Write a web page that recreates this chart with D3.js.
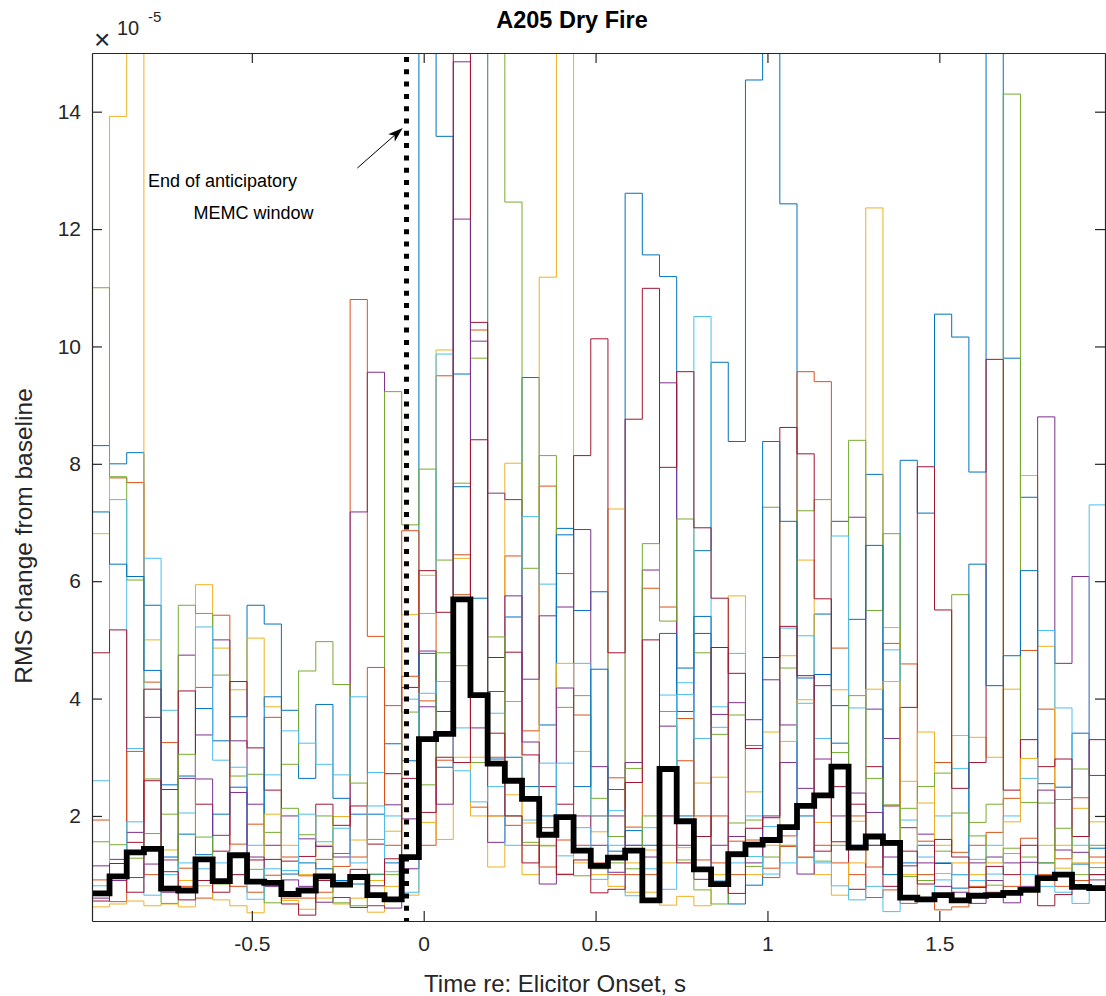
<!DOCTYPE html>
<html>
<head>
<meta charset="utf-8">
<script src="https://cdn.jsdelivr.net/npm/d3@7"></script>
<style>
body { margin: 0; background: #fff; }
svg text { font-family: "Liberation Sans", Arial, Helvetica, sans-serif; }
</style>
</head>
<body>
<svg id="chart" width="1106" height="996"></svg>
<script>
// 59 time bins of 0.05 s, the first one starting at -0.964 s
var binStart = -0.964;
var binWidth = 0.05;

var xTicks = [-0.5, 0, 0.5, 1, 1.5];
var xTickLabels = ["-0.5", "0", "0.5", "1", "1.5"];
var yTicks = [2, 4, 6, 8, 10, 12, 14];
var yTickLabels = ["2", "4", "6", "8", "10", "12", "14"];

// RMS change per bin, in units of 1e-5 (values above 15 run off the top)
var blueA = [8.31, 8.0, 8.19, 5.59, 2.53, 2.68, 3.83, 3.28, 3.69, 5.59, 5.27, 3.80, 2.64, 3.90, 2.30, 2.03, 2.03, 3.23, 2.94, 16, 13.58, 9.53, 16, 4.12, 5.39, 9.47, 3.55, 6.90, 5.50, 5.82, 2.45, 12.61, 11.56, 11.19, 4.52, 6.52, 9.73, 8.38, 14.54, 16, 12.43, 4.35, 5.44, 3.88, 5.35, 7.82, 1.5, 8.06, 7.16, 10.55, 10.16, 7.86, 16, 9.8, 7.43, 2.55, 2.49, 3.41, 1.45];
var orangeA = [1.93, 7.76, 7.68, 4.28, 3.25, 1.11, 4.19, 5.42, 1.52, 1.86, 3.68, 1.3, 0.98, 1.26, 1.36, 10.8, 5.06, 3.88, 6.86, 3.96, 9.5, 5.77, 10.28, 3.0, 6.43, 3.45, 7.62, 6.13, 3.72, 2.0, 2.65, 1.81, 5.88, 5.56, 3.66, 1.25, 2.0, 1.57, 3.20, 1.11, 1.66, 9.57, 9.40, 4.86, 2.0, 1.13, 4.94, 4.59, 1.57, 2.91, 1.38, 1.5, 1.72, 2.30, 4.82, 3.82, 1.27, 2.31, 1.3];
var yellowA = [6.81, 13.92, 16, 5.0, 1.42, 0.9, 5.94, 4.86, 4.15, 5.03, 3.86, 1.5, 1.0, 1.5, 1.99, 1.59, 0.9, 1.74, 5.43, 6.10, 9.94, 6.39, 3.0, 1.13, 8.01, 1.88, 11.18, 16, 3.10, 1.73, 7.23, 1.2, 1.42, 1.2, 1.46, 2.56, 2.66, 5.75, 2.41, 3.43, 4.73, 6.36, 1.89, 4.15, 1.91, 12.36, 5.21, 2.59, 3.43, 1.5, 3.37, 3.34, 3.0, 4.16, 7.8, 4.89, 1.5, 2.13, 1.9];
var purpleA = [1.15, 1.26, 1.72, 3.68, 1.25, 4.74, 3.38, 5.0, 3.28, 2.2, 1.5, 2.0, 1.61, 1.48, 1.3, 7.18, 9.56, 2.19, 1.95, 4.81, 3.78, 14.85, 10.09, 7.5, 7.39, 4.33, 5.41, 5.56, 6.88, 2.84, 2.0, 2.91, 6.19, 9.38, 3.78, 5.11, 3.73, 3.93, 3.64, 4.32, 3.55, 2.47, 4.22, 7.02, 7.09, 3.82, 3.32, 1.8, 1.69, 1.19, 1.0, 1.2, 1.3, 1.2, 1.21, 8.8, 4.60, 6.08, 2.69];
var greenA = [11.0, 7.78, 6.02, 2.63, 2.03, 5.59, 5.45, 4.40, 2.68, 2.71, 1.72, 2.88, 4.47, 4.97, 4.24, 2.56, 1.6, 9.23, 6.96, 7.91, 6.36, 7.67, 9.8, 16, 12.46, 6.22, 8.14, 3.85, 4.05, 2.3, 1.65, 2.81, 6.64, 5.32, 7.06, 4.78, 3.39, 3.72, 1.93, 7.26, 4.52, 7.20, 7.39, 3.08, 8.40, 5.5, 6.81, 2.13, 2.5, 2.73, 5.77, 1.89, 2.20, 14.3, 2.23, 2.22, 2.28, 2.80, 1.12];
var lightBlueA = [0.81, 7.39, 3.15, 6.39, 3.80, 2.05, 5.22, 2.95, 2.83, 1.5, 2.7, 3.45, 3.24, 2.88, 2.70, 4.03, 2.74, 2.0, 3.99, 5.45, 9.87, 3.5, 4.03, 3.75, 3.95, 7.1, 5.95, 2.90, 4.60, 2.0, 2.09, 1.5, 1.8, 4.06, 4.27, 10.51, 3.86, 4.77, 2.0, 1.82, 5.2, 5.07, 3.32, 6.77, 3.84, 1.5, 4.83, 1.93, 1.3, 2.0, 2.81, 1.26, 1.5, 2.0, 2.64, 5.16, 3.84, 1.5, 7.30];
var darkRedA = [4.78, 5.17, 1.55, 4.16, 2.45, 4.13, 2.20, 1.40, 4.29, 3.16, 2.44, 1.23, 1.31, 2.20, 1.84, 2.17, 1.52, 2.72, 4.19, 6.18, 5.47, 16, 10.41, 4.70, 4.79, 3.04, 2.50, 2.2, 8.14, 10.13, 4.78, 8.76, 10.99, 7.94, 9.57, 6.91, 5.71, 4.43, 3.15, 4.70, 8.62, 8.17, 5.70, 1.56, 0.75, 2.84, 2.17, 3.85, 7.95, 5.51, 2.47, 2.91, 9.78, 2.44, 3.30, 2.84, 2.97, 1.65, 3.30];

var blueB = [7.18, 6.29, 6.08, 4.48, 1.3, 1.69, 1.34, 2.03, 2.49, 0.9, 4.03, 1.01, 1.2, 1.1, 0.9, 0.84, 1.0, 1.2, 1.3, 4.77, 2.83, 7.61, 5.71, 2.97, 3.0, 2.5, 2.0, 6.79, 2.5, 4.50, 1.4, 1.75, 1.5, 5.11, 2.0, 5.40, 0.89, 0.5, 0.82, 8.38, 7.02, 2.0, 4.41, 3.24, 1.5, 6.61, 1.0, 1.2, 1.5, 1.2, 0.77, 6.29, 4.22, 4.73, 6.18, 1.2, 1.0, 1.18, 1.0];
var orangeB = [0.91, 0.54, 3.10, 1.0, 0.8, 0.8, 0.60, 0.9, 0.8, 0.7, 0.99, 0.6, 0.6, 0.7, 1.14, 1.3, 4.53, 1.5, 4.38, 1.5, 2.95, 6.45, 2.15, 2.0, 1.84, 1.5, 1.13, 1.59, 1.5, 1.2, 1.0, 1.0, 1.0, 1.5, 2.94, 2.0, 1.2, 1.0, 1.59, 0.95, 1.48, 1.3, 1.5, 1.2, 1.0, 0.61, 0.74, 0.51, 1.0, 0.40, 0.45, 0.8, 0.7, 0.8, 1.62, 1.0, 0.8, 0.9, 0.8];
var yellowB = [0.45, 0.50, 0.55, 0.47, 0.5, 0.45, 0.81, 0.57, 0.47, 0.35, 2.03, 0.56, 0.41, 0.6, 0.5, 0.6, 0.36, 0.8, 0.65, 1.89, 1.6, 3.0, 2.0, 2.0, 2.36, 1.0, 1.5, 4.60, 1.2, 1.0, 0.8, 0.7, 0.7, 0.48, 0.63, 0.47, 1.0, 1.3, 1.0, 1.5, 3.27, 3.98, 1.0, 0.65, 1.2, 4.16, 4.29, 1.0, 2.22, 1.02, 1.2, 1.0, 1.2, 1.9, 2.98, 1.5, 1.11, 1.2, 1.2];
var purpleB = [0.60, 0.9, 0.95, 1.18, 0.7, 2.64, 2.63, 1.67, 2.40, 1.3, 0.8, 0.91, 0.8, 0.53, 0.61, 0.44, 0.47, 0.43, 1.10, 3.86, 2.2, 12.17, 3.5, 1.55, 5.75, 3.26, 0.84, 4.18, 2.0, 1.5, 1.04, 1.5, 1.3, 3.53, 1.5, 0.92, 1.5, 1.65, 1.2, 2.0, 2.91, 1.01, 2.97, 2.0, 2.39, 2.06, 1.3, 1.15, 1.2, 0.8, 0.7, 0.51, 0.9, 0.52, 0.8, 2.44, 1.42, 1.38, 0.91];
var greenB = [1.56, 1.51, 1.28, 1.70, 0.51, 3.05, 1.64, 0.84, 1.3, 1.09, 0.52, 2.13, 1.68, 2.0, 0.52, 0.47, 1.01, 1.0, 3.77, 2.53, 4.78, 4.56, 2.91, 5.05, 2.0, 1.55, 1.49, 1.01, 0.98, 1.1, 1.2, 1.1, 2.0, 3.78, 1.25, 0.74, 0.5, 1.88, 1.14, 1.3, 1.5, 1.29, 1.23, 1.5, 4.05, 2.64, 2.19, 0.97, 0.9, 1.4, 2.05, 1.66, 0.82, 1.45, 1.3, 1.2, 1.79, 1.0, 1.5];
var lightBlueB = [2.6, 1.0, 1.90, 0.65, 1.0, 1.2, 1.1, 1.2, 1.0, 0.58, 1.1, 1.07, 2.03, 1.56, 1.79, 1.2, 2.17, 1.05, 0.70, 4.09, 4.29, 2.77, 2.24, 2.5, 1.5, 1.93, 2.90, 1.32, 1.8, 0.92, 1.5, 0.64, 1.1, 0.75, 4.07, 3.32, 3.51, 1.2, 1.31, 1.01, 1.2, 3.92, 1.2, 0.81, 0.57, 0.8, 0.37, 0.6, 0.54, 0.91, 1.0, 0.9, 1.01, 1.36, 1.0, 0.8, 0.7, 0.51, 0.8];
var darkRedB = [0.55, 1.19, 0.7, 2.60, 1.05, 0.57, 0.9, 0.7, 1.00, 1.25, 1.26, 0.50, 0.31, 0.9, 0.8, 1.09, 0.81, 1.27, 2.64, 2.06, 3.0, 2.91, 8.41, 3.41, 2.0, 1.2, 1.8, 1.0, 1.25, 0.69, 0.75, 2.57, 5.0, 2.0, 1.2, 1.65, 4.87, 0.68, 1.79, 1.97, 5.23, 4.39, 1.40, 2.5, 2.2, 1.5, 0.8, 1.4, 0.84, 1.6, 1.3, 0.78, 1.14, 1.0, 1.5, 0.47, 0.66, 0.8, 1.0];

// mean over all traces (thick black)
var meanRms = [0.68, 0.97, 1.38, 1.44, 0.76, 0.73, 1.26, 0.89, 1.33, 0.88, 0.86, 0.67, 0.73, 0.97, 0.83, 0.96, 0.65, 0.58, 1.30, 3.31, 3.40, 5.69, 4.06, 2.89, 2.60, 2.29, 1.68, 1.98, 1.41, 1.15, 1.29, 1.41, 0.56, 2.80, 1.91, 1.09, 0.84, 1.35, 1.51, 1.59, 1.81, 2.17, 2.35, 2.84, 1.46, 1.65, 1.54, 0.61, 0.58, 0.65, 0.56, 0.64, 0.65, 0.69, 0.74, 0.94, 1.0, 0.79, 0.77];

var windowEnd = -0.05; // end of anticipatory MEMC window

var matlabColors = ["#0072BD", "#D95319", "#EDB120", "#7E2F8E", "#77AC30", "#4DBEEE", "#A2142F"];
var traces = [blueA, orangeA, yellowA, purpleA, greenA, lightBlueA, darkRedA,
              blueB, orangeB, yellowB, purpleB, greenB, lightBlueB, darkRedB];

var plotLeft = 92, plotRight = 1105, plotTop = 53, plotBottom = 921;
var axisColor = "#262626";

var x = d3.scaleLinear().domain([-0.965, 1.982]).range([plotLeft, plotRight]);
var y = d3.scaleLinear().domain([0.21, 15]).range([plotBottom, plotTop]);

function stairPoints(values) {
    var pts = values.map(function(v, i) { return [binStart + i * binWidth, v]; });
    // close the last bin
    pts.push([binStart + values.length * binWidth, values[values.length - 1]]);
    return pts;
}

var stairLine = d3.line()
    .x(function(d) { return x(d[0]); })
    .y(function(d) { return y(d[1]); })
    .curve(d3.curveStepAfter);

var svg = d3.select("#chart");

svg.append("defs").append("clipPath")
    .attr("id", "plotClip")
    .append("rect")
    .attr("x", plotLeft).attr("y", plotTop)
    .attr("width", plotRight - plotLeft).attr("height", plotBottom - plotTop);

var plot = svg.append("g").attr("clip-path", "url(#plotClip)");

plot.selectAll(".trace")
    .data(traces)
    .enter().append("path")
    .attr("class", "trace")
    .attr("d", function(d) { return stairLine(stairPoints(d)); })
    .attr("fill", "none")
    .attr("stroke", function(d, i) { return matlabColors[i % 7]; })
    .attr("stroke-width", 1);

plot.append("path")
    .attr("d", stairLine(stairPoints(meanRms)))
    .attr("fill", "none")
    .attr("stroke", "#000")
    .attr("stroke-width", 5.8)
    .attr("stroke-linejoin", "miter");

plot.append("line")
    .attr("x1", x(windowEnd)).attr("x2", x(windowEnd))
    .attr("y1", plotTop + 4).attr("y2", plotBottom)
    .attr("stroke", "#000")
    .attr("stroke-width", 5)
    .attr("stroke-dasharray", "5,7.3");

// axes: ticks point inward on all four sides
function styleAxis(g) {
    g.selectAll("path, line").attr("stroke", axisColor).attr("stroke-width", 1.2);
    g.selectAll("text")
        .attr("fill", axisColor)
        .style("font-family", "'Liberation Sans', Arial, sans-serif")
        .style("font-size", "21px");
}

svg.append("g")
    .attr("transform", "translate(0," + plotBottom + ")")
    .call(d3.axisBottom(x).tickValues(xTicks)
        .tickFormat(function(d, i) { return xTickLabels[i]; })
        .tickSizeInner(-10).tickSizeOuter(0).tickPadding(15))
    .call(styleAxis);

svg.append("g")
    .attr("transform", "translate(0," + plotTop + ")")
    .call(d3.axisTop(x).tickValues(xTicks).tickFormat("")
        .tickSizeInner(-10).tickSizeOuter(0))
    .call(styleAxis);

svg.append("g")
    .attr("transform", "translate(" + plotLeft + ",0)")
    .call(d3.axisLeft(y).tickValues(yTicks)
        .tickFormat(function(d, i) { return yTickLabels[i]; })
        .tickSizeInner(-10).tickSizeOuter(0).tickPadding(11))
    .call(styleAxis);

svg.append("g")
    .attr("transform", "translate(" + plotRight + ",0)")
    .call(d3.axisRight(y).tickValues(yTicks).tickFormat("")
        .tickSizeInner(-10).tickSizeOuter(0))
    .call(styleAxis);

// exponent marker
var expo = svg.append("g").attr("fill", axisColor);
expo.append("text").attr("x", 94).attr("y", 49).style("font-size", "28px").text("\u00d7");
expo.append("text").attr("x", 117).attr("y", 35).style("font-size", "20px").text("10");
expo.append("text").attr("x", 148).attr("y", 22).style("font-size", "15px").text("-5");

// title and axis labels
svg.append("text")
    .attr("x", 572).attr("y", 28)
    .attr("text-anchor", "middle")
    .attr("fill", "#000")
    .style("font-size", "23.5px")
    .style("font-weight", "bold")
    .text("A205 Dry Fire");

svg.append("text")
    .attr("x", 555).attr("y", 992)
    .attr("text-anchor", "middle")
    .attr("fill", axisColor)
    .style("font-size", "24px")
    .text("Time re: Elicitor Onset, s");

svg.append("text")
    .attr("transform", "translate(32,536) rotate(-90)")
    .attr("text-anchor", "middle")
    .attr("fill", axisColor)
    .style("font-size", "24.5px")
    .text("RMS change from baseline");

// annotation
svg.append("text")
    .attr("x", x(-0.802)).attr("y", y(12.72))
    .attr("fill", "#000")
    .style("font-size", "18px")
    .text("End of anticipatory");
svg.append("text")
    .attr("x", x(-0.670)).attr("y", y(12.18))
    .attr("fill", "#000")
    .style("font-size", "18px")
    .text("MEMC window");

var tail = [x(-0.193), y(13.04)];
var tip = [x(-0.061), y(13.72)];
var ang = Math.atan2(tip[1] - tail[1], tip[0] - tail[0]);
function offset(p, len, a) { return [p[0] + len * Math.cos(a), p[1] + len * Math.sin(a)]; }
var back = offset(tip, -15, ang);
var notch = offset(tip, -11, ang);
svg.append("line")
    .attr("x1", tail[0]).attr("y1", tail[1])
    .attr("x2", notch[0]).attr("y2", notch[1])
    .attr("stroke", "#000").attr("stroke-width", 1);
var w1 = offset(back, 5, ang + Math.PI / 2);
var w2 = offset(back, 5, ang - Math.PI / 2);
svg.append("path")
    .attr("d", "M" + tip + "L" + w1 + "L" + notch + "L" + w2 + "Z")
    .attr("fill", "#000");
</script>
</body>
</html>
